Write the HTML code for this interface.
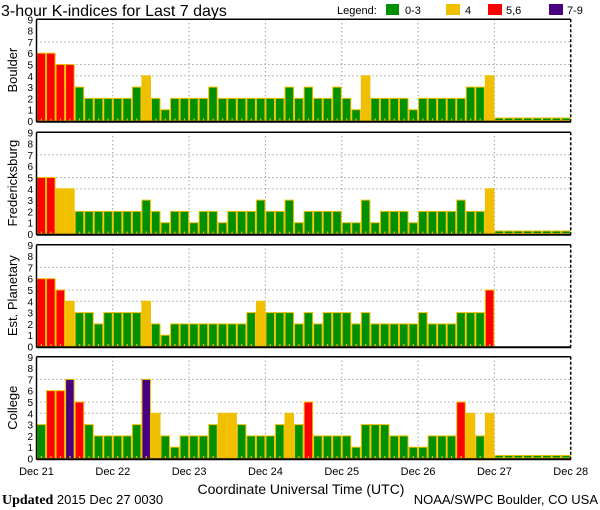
<!DOCTYPE html>
<html><head><meta charset="utf-8"><style>
html,body{margin:0;padding:0;background:#fff;}
svg{display:block;font-family:"Liberation Sans",sans-serif;}
</style></head><body>
<svg id="chart" width="600" height="510" viewBox="0 0 600 510">
<text x="1" y="16" font-size="16" fill="#000">3-hour K-indices for Last 7 days</text>
<g>
<text x="337" y="14" font-size="11">Legend:</text>
<rect x="386" y="4" width="13" height="11" fill="#009000"/>
<text x="405" y="14" font-size="11">0-3</text>
<rect x="446" y="4" width="14" height="11" fill="#f0c000"/>
<text x="465" y="14" font-size="11">4</text>
<rect x="488" y="4" width="14" height="11" fill="#ff0000"/>
<text x="506" y="14" font-size="11">5,6</text>
<rect x="549" y="4" width="14" height="11" fill="#480080"/>
<text x="567" y="14" font-size="11">7-9</text>
</g>
<g id="panels"></g>
<g id="xaxis"></g>
<text x="301" y="494" font-size="14" text-anchor="middle">Coordinate Universal Time (UTC)</text>
<text x="2" y="504" font-size="14" font-family="Liberation Serif, serif"><tspan font-weight="bold">Updated</tspan> <tspan font-family="Liberation Sans, sans-serif" font-size="13">2015 Dec 27 0030</tspan></text>
<text x="598" y="504" font-size="13" text-anchor="end">NOAA/SWPC Boulder, CO USA</text>
</svg>
<script>
const panelNames = ["Boulder", "Fredericksburg", "Est. Planetary", "College"];
const boulder = [6,6,5,5,3,2,2,2,2,2,3,4,2,1,2,2,2,2,3,2,2,2,2,2,2,2,3,2,3,2,2,3,2,1,4,2,2,2,2,1,2,2,2,2,2,3,3,4,null,null,null,null,null,null,null,null];
const fredericksburg = [5,5,4,4,2,2,2,2,2,2,2,3,2,1,2,2,1,2,2,1,2,2,2,3,2,2,3,1,2,2,2,2,1,1,3,1,2,2,2,1,2,2,2,2,3,2,2,4,null,null,null,null,null,null,null,null];
const planetary = [6,6,5,4,3,3,2,3,3,3,3,4,2,1,2,2,2,2,2,2,2,2,3,4,3,3,3,2,3,2,3,3,3,2,3,2,2,2,2,2,3,2,2,2,3,3,3,5,null,null,null,null,null,null,null,null];
const college = [3,6,6,7,5,3,2,2,2,2,3,7,4,2,1,2,2,2,3,4,4,3,2,2,2,3,4,3,5,2,2,2,2,1,3,3,3,2,2,1,1,2,2,2,5,4,2,4,null,null,null,null,null,null,null,null];
const dayLabels = ["Dec 21","Dec 22","Dec 23","Dec 24","Dec 25","Dec 26","Dec 27","Dec 28"];
const yTicks = [0,1,2,3,4,5,6,7,8,9];
const gridLevels = [4,5,7];

const series = [boulder, fredericksburg, planetary, college];
const showStub = [true, true, false, true];
const NS = "http://www.w3.org/2000/svg";
const X0 = 36.5, X1 = 570.7, NB = 56;
const bw = (X1 - X0) / NB;
const zeros = [121, 234, 346.5, 458.5];
const unit = 11.3;
function xScale(i){ return X0 + i * bw; }
function xDay(d){ return X0 + d * (X1 - X0) / 7; }
function yScale(p, v){ return zeros[p] - v * unit; }
function color(v){ return v <= 3 ? "#009000" : v === 4 ? "#f0c000" : v <= 6 ? "#ff0000" : "#480080"; }
function mk(tag, attrs, parent){ const e = document.createElementNS(NS, tag); for (const k in attrs) e.setAttribute(k, attrs[k]); parent.appendChild(e); return e; }
const root = document.getElementById("panels");
series.forEach((data, p) => {
  const g = mk("g", {}, root);
  
  
  const top = yScale(p, 9);
  // grid
  gridLevels.forEach(l => {
    const ln = mk("line", {x1: X0, x2: X1, y1: yScale(p, l), y2: yScale(p, l), stroke: "#777", "stroke-width": 1, "stroke-dasharray": "1,3"}, g);
    
    
  });
  for (let d = 1; d < 7; d++) {
    const ln = mk("line", {x1: xDay(d), x2: xDay(d), y1: top, y2: zeros[p], stroke: "#777", "stroke-width": 1, "stroke-dasharray": "1,3"}, g);
    
    
  }
  // bars
  data.forEach((v, i) => {
    let r;
    if (v === null) {
      if (!showStub[p]) return;
      r = mk("rect", {x: xScale(i) + 0.5, y: zeros[p] - 3, width: bw - 1, height: 2.5, fill: "#009000", stroke: "#f0c000", "stroke-width": 1}, g);
      
      
      return;
    }
    r = mk("rect", {x: xScale(i) + 0.5, y: yScale(p, v), width: bw - 1, height: zeros[p] - yScale(p, v), fill: color(v), stroke: "#f0c000", "stroke-width": 1}, g);
    
    
    const t = mk("rect", {x: xScale(i) + bw / 2 - 0.5, y: zeros[p] - 2.5, width: 1.2, height: 2, fill: "#f0c000"}, g);
    
    
  });
  // borders
  const b1 = mk("line", {x1: X0, x2: X1, y1: top, y2: top, stroke: "#000", "stroke-width": 1.5}, g);
  
  
  const b2 = mk("line", {x1: X0, x2: X0, y1: top, y2: zeros[p] + 1, stroke: "#000", "stroke-width": 1.5}, g);
  
  
  const b3 = mk("line", {x1: X0, x2: X1 + 0.5, y1: zeros[p] + 0.8, y2: zeros[p] + 0.8, stroke: "#000", "stroke-width": 2}, g);
  
  
  const b4 = mk("line", {x1: X1, x2: X1, y1: top, y2: zeros[p], stroke: "#000", "stroke-width": 1.5, "stroke-dasharray": "3,2"}, g);
  
  
  // y ticks
  yTicks.forEach(t => {
    const tx = mk("text", {x: 33, y: yScale(p, t) + 4, "font-size": 10, "text-anchor": "end", fill: "#000"}, g);
    tx.textContent = t;
    
    
  });
  const cy = (top + zeros[p]) / 2;
  const lbl = mk("text", {x: 13, y: cy, "font-size": 13, "text-anchor": "middle", transform: "rotate(-90 13 " + cy + ")", dy: 4}, g);
  lbl.textContent = panelNames[p];
  
  
});
const xa = document.getElementById("xaxis");
dayLabels.forEach((d, i) => {
  const t = mk("text", {x: xDay(i), y: 475, "font-size": 11, "text-anchor": "middle"}, xa);
  t.textContent = d;
  
  
});
</script>
</body></html>
